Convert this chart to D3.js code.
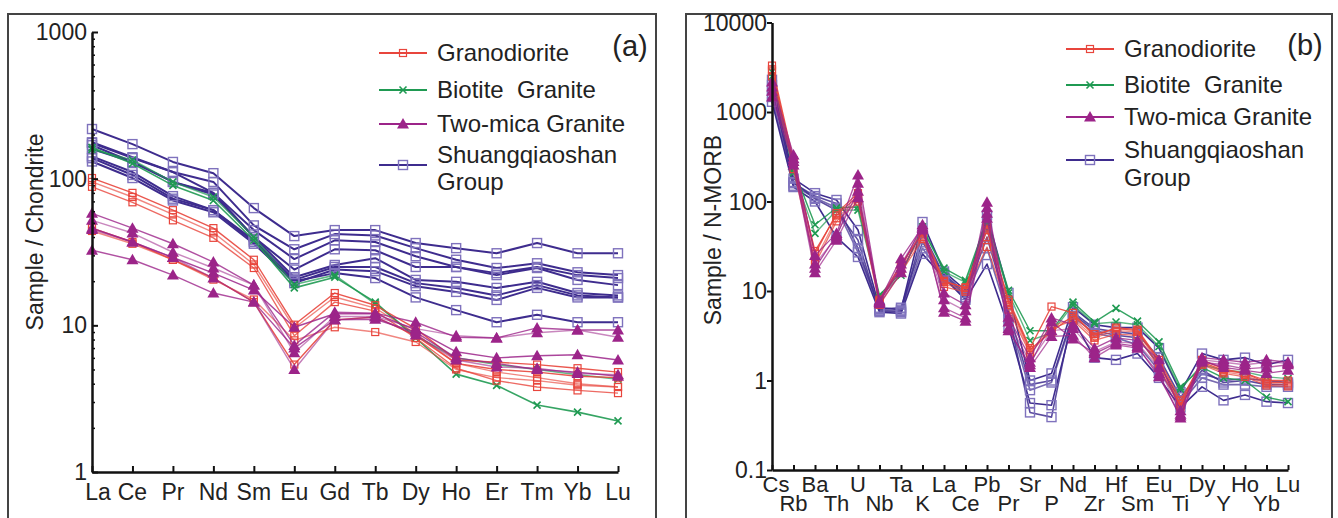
<!DOCTYPE html>
<html><head><meta charset="utf-8">
<script src="https://cdn.jsdelivr.net/npm/d3@7/dist/d3.min.js"></script>
<style>html,body{margin:0;padding:0;background:#fff;}svg{display:block;font-family:"Liberation Sans",Arial,sans-serif;}</style>
</head><body><svg id="c" width="1338" height="518"></svg>
<script>
// ---------- DATA ----------
const reeElements = ["La","Ce","Pr","Nd","Sm","Eu","Gd","Tb","Dy","Ho","Er","Tm","Yb","Lu"];
const reeTicks = [1,10,100,1000];
// Chondrite-normalised (panel a)
const reeGranodiorite = [
  [101,80,61,46,28,10.1,16.6,13.7,9.5,5.8,5.6,5.4,5.1,4.8],
  [95,75,57,43,26,9.6,15.6,13.1,8.8,5.5,4.8,4.4,4.0,3.8],
  [88,69,52,39.5,24.6,8.5,14.4,12.5,8.2,5.1,4.2,3.8,3.6,3.45],
  [46,37,28,21,14.4,5.4,10.9,11.4,8.5,5.5,5.0,4.8,4.5,4.4],
  [44,36,28,20.5,15,7.9,9.7,9.0,7.7,5.0,4.4,4.2,3.9,3.8]
];
const reeBiotite = [
  [163,127,90,71,38,18,21.3,14.4,8.2,4.65,3.9,2.86,2.56,2.23],
  [158,134,95,75,40,19,22,14,8.5,6.0,5.4,5.0,4.6,4.3]
];
const reeTwoMica = [
  [58,46,36,27,18.8,7.3,12.3,12.1,10.5,8.3,8.2,9.6,9.3,9.3],
  [52,42.6,31.5,24.6,18.8,6.5,11.5,11.5,9.5,8.5,8.2,8.9,9.3,8.3],
  [46,37,29,22.7,17.4,9.7,12,12,9.3,6.6,6.0,6.2,6.3,5.8],
  [45,37,29,21,14.4,5.0,10.9,11.4,8.6,5.8,5.2,5.1,4.7,4.6],
  [32.5,28,22,16.6,14.4,7.0,10.9,11,9,6.0,5.5,5.0,4.8,4.5]
];
const reeShuang = [
  [218,172,130,109,63,40.6,44.6,44.6,36.4,33.6,31,36.4,31,31],
  [177,140,111,95,48,33,41.9,41,33.6,28,24.6,26.5,23,22],
  [175,138,111,80,44.6,28.3,38,37,29.6,25,22.7,25,22,21],
  [169,130,95,80,40,24,33,32.5,25,25,22,24.6,20.4,18.8],
  [159,130,95,78,40,21.3,25.8,28.7,20.4,19.8,18,19.8,16.6,16],
  [142,111,76,61,38,20.4,25,25,19.4,18,16,18.8,16,15.5],
  [138,106,73,61,37,19.4,24,23.4,18.5,16.9,14.9,18,15.5,15.5],
  [131,101,71,59,36,20,22.7,21,15.5,12.7,10.5,11.8,10.5,10.5]
];

const spiderElements = ["Cs","Rb","Ba","Th","U","Nb","Ta","K","La","Ce","Pb","Pr","Sr","P","Nd","Zr","Hf","Sm","Eu","Ti","Dy","Y","Ho","Yb","Lu"];
const spiderTicks = [0.1,1,10,100,1000,10000];
const spiderTickLabels = ["0.1","1","10","100","1000","10000"];
// N-MORB-normalised (panel b)
const spGranodiorite = [
  [3300,290,26,74,124,8.0,20,44,12.6,11.0,48,8.0,2.3,6.7,5.7,3.1,3.9,3.7,1.7,0.6,1.6,1.3,1.2,1.0,1.0],
  [2900,260,22,65,107,7.5,18,40,12,10.2,40,7.0,2.1,4.0,5.0,3.0,3.6,3.5,1.5,0.55,1.55,1.25,1.15,0.92,0.9],
  [2500,230,20,60,100,7.0,16,38,11.1,9.8,31,6.2,2.0,3.8,4.7,2.8,3.3,3.2,1.4,0.5,1.5,1.2,1.1,0.88,0.86],
  [3000,270,28,70,115,7.8,19,46,13,10.8,55,7.5,2.2,3.5,5.3,3.3,3.8,3.6,1.6,0.52,1.7,1.35,1.2,0.95,0.95]
];
const spBiotite = [
  [2800,230,55,85,87,9.0,16,48,18,13.2,62,10.2,3.6,3.6,7.5,4.5,6.4,4.6,2.7,0.85,1.4,1.07,1.0,0.65,0.58],
  [2500,210,44,80,80,8.5,15,52,16.5,12.5,55,9.5,2.8,3.4,7.0,4.3,4.5,4.2,2.4,0.8,1.5,1.3,1.25,1.1,1.05]
];
const spTwoMica = [
  [2170,331,25,44,198,7.8,23,52,9.5,7.0,98,5.1,1.8,5.0,4.2,2.3,3.0,2.8,1.7,0.46,1.8,1.7,1.6,1.7,1.6],
  [1900,300,20,40,160,7.5,20,50,8.0,6.0,85,4.5,1.6,3.6,3.8,2.1,2.7,2.6,1.4,0.42,1.7,1.6,1.5,1.6,1.55],
  [1470,256,16,37,110,7.2,16,48,6.5,5.0,74,3.8,1.4,3.1,3.2,1.8,2.5,2.3,1.2,0.38,1.6,1.5,1.35,1.4,1.5],
  [1700,280,18,42,130,7.6,18,55,5.8,4.6,65,3.6,1.5,4.5,2.9,2.0,2.6,2.4,1.1,0.4,1.65,1.4,1.3,1.2,1.3]
];
const spShuang = [
  [2290,180,124,104,48,6.5,6.2,59,16.5,10.2,70,9.5,1.0,1.2,6.6,4.2,3.9,3.9,2.3,0.74,2.0,1.7,1.8,1.5,1.7],
  [1770,165,107,80,37,6.0,5.8,45,15,9.0,40,6.0,0.9,1.0,5.5,3.6,3.2,3.0,1.5,0.6,1.2,1.0,1.05,1.0,0.95],
  [1470,150,110,85,27,6.2,6.0,30,14.3,8.5,30,5.0,0.78,0.95,5.1,3.4,3.0,2.5,1.3,0.55,1.07,0.9,0.9,0.85,0.85],
  [1300,145,100,40,24,5.8,5.6,26,14,8.0,20,4.0,0.56,0.53,4.8,1.8,1.7,2.0,1.07,0.5,0.85,0.6,0.69,0.58,0.56],
  [2000,160,115,95,30,6.3,6.5,35,15.5,9.5,50,5.5,0.44,0.39,5.8,3.8,3.5,3.3,1.8,0.65,1.3,0.95,1.0,0.9,0.9]
];

const legendNames = ["Granodiorite","Biotite  Granite","Two-mica Granite","Shuangqiaoshan|Group"];

// ---------- STYLE ----------
const C = {red:"#e8453c", green:"#1f9a52", mag:"#9c2489", blue:"#3e2c8e", blueMk:"#7f72bd"};
const svg = d3.select("#c");

function marker(g, type, x, y) {
  if (type === "sq") {
    g.append("rect").attr("x", x-3.5).attr("y", y-3.5).attr("width",7).attr("height",7)
      .attr("fill","none").attr("stroke",C.red).attr("stroke-width",1.2);
  } else if (type === "bsq") {
    g.append("rect").attr("x", x-4.5).attr("y", y-4.5).attr("width",9).attr("height",9)
      .attr("fill","none").attr("stroke",C.blueMk).attr("stroke-width",1.4);
  } else if (type === "x") {
    g.append("path").attr("d",`M${x-3.5},${y-3.5}L${x+3.5},${y+3.5}M${x-3.5},${y+3.5}L${x+3.5},${y-3.5}`)
      .attr("stroke",C.green).attr("stroke-width",1.6);
  } else if (type === "tri") {
    g.append("path").attr("d",`M${x},${y-6}L${x+6},${y+4.5}L${x-6},${y+4.5}Z`).attr("fill",C.mag);
  }
}

function drawGroup(g, xs, ys, cats, rows, color, mk, lw, opac) {
  const line = d3.line().x((d,i)=>xs(cats[i])).y(d=>ys(d));
  rows.forEach((r,k)=>{
    g.append("path").attr("d", line(r)).attr("fill","none").attr("stroke",color)
      .attr("stroke-width",lw).attr("stroke-opacity", opac[k % opac.length]).attr("stroke-linejoin","round");
  });
  rows.forEach(r=>{ r.forEach((v,i)=>marker(g, mk, xs(cats[i]), ys(v))); });
}

function legend(g, x1, x2, xt, rowsY, fs) {
  const items = [
    {c:C.red, m:"sq"}, {c:C.green, m:"x"}, {c:C.mag, m:"tri"}, {c:C.blue, m:"bsq"}
  ];
  items.forEach((it,i)=>{
    const ry = rowsY[i];
    g.append("line").attr("x1",x1).attr("x2",x2).attr("y1",ry.m).attr("y2",ry.m)
      .attr("stroke",it.c).attr("stroke-width",2);
    marker(g, it.m, (x1+x2)/2, ry.m);
    const parts = legendNames[i].split("|");
    parts.forEach((p,j)=>{
      g.append("text").attr("x",xt).attr("y",ry.t[j]+fs*0.35).attr("font-size",fs)
        .attr("fill","#222").attr("xml:space","preserve").text(p);
    });
  });
}

// ---------- FRAMES ----------
svg.append("rect").attr("x",8).attr("y",14).attr("width",648).attr("height",520)
  .attr("fill","none").attr("stroke","#444").attr("stroke-width",2);
svg.append("rect").attr("x",686).attr("y",14).attr("width",646).attr("height",520)
  .attr("fill","none").attr("stroke","#444").attr("stroke-width",2);

// ---------- PANEL A ----------
const xA = d3.scalePoint().domain(reeElements).range([92,618]);
const yA = d3.scaleLog().domain([1,1000]).range([472,32]);
const gA = svg.append("g");

drawGroup(gA, xA, yA, reeElements, reeShuang, C.blue, "bsq", 2, [1]);
drawGroup(gA, xA, yA, reeElements, reeBiotite, C.green, "x", 1.6, [0.9,0.7]);
drawGroup(gA, xA, yA, reeElements, reeGranodiorite, C.red, "sq", 1.4, [0.9,0.65,0.8]);
drawGroup(gA, xA, yA, reeElements, reeTwoMica, C.mag, "tri", 1.4, [0.8,0.55,0.85,0.6]);

// axes A
const minorA = [];
reeTicks.slice(0,3).forEach(d=>{ for (let k=2;k<=9;k++) minorA.push(d*k); });
gA.append("g").attr("transform","translate(92,0)")
  .call(d3.axisLeft(yA).tickValues(minorA).tickSize(-3).tickSizeOuter(0).tickFormat(""))
  .call(s=>{s.select(".domain").remove(); s.selectAll("line").attr("stroke","#111").attr("stroke-width",1.5);});
gA.append("g").attr("transform","translate(92,0)")
  .call(d3.axisLeft(yA).tickValues(reeTicks).tickSize(-6).tickSizeOuter(0).tickFormat(""))
  .call(s=>{s.select(".domain").attr("stroke","#111").attr("stroke-width",2.5); s.selectAll("line").attr("stroke","#111").attr("stroke-width",2);});
gA.append("g").attr("transform","translate(0,472)")
  .call(d3.axisBottom(xA).tickSize(-6).tickSizeOuter(0).tickFormat(""))
  .call(s=>{s.select(".domain").attr("stroke","#111").attr("stroke-width",2.5); s.selectAll("line").attr("stroke","#111").attr("stroke-width",2);});
gA.selectAll("text.yl").data(reeTicks).join("text").attr("class","yl")
  .attr("x",87).attr("y",d=>yA(d)+8).attr("text-anchor","end").attr("font-size",23).attr("fill","#222").text(d=>d);
gA.selectAll("text.xl").data(reeElements).join("text").attr("class","xl")
  .attr("x",d=>xA(d)+ (d==="La"?6:0)).attr("y",500).attr("text-anchor","middle").attr("font-size",23).attr("fill","#222").text(d=>d);
gA.append("text").attr("transform","translate(43,232) rotate(-90)").attr("text-anchor","middle")
  .attr("font-size",23).attr("fill","#222").attr("xml:space","preserve").text("Sample / Chondrite");
gA.append("text").attr("x",630).attr("y",56).attr("text-anchor","middle").attr("font-size",29).attr("fill","#222").text("(a)");
legend(gA, 379, 427, 437, [{m:53,t:[53]},{m:90,t:[90]},{m:124,t:[124]},{m:165,t:[155,182]}], 24);

// ---------- PANEL B ----------
const xB = d3.scalePoint().domain(spiderElements).range([772,1288]);
const yB = d3.scaleLog().domain([0.1,10000]).range([470,22.5]);
const gB = svg.append("g");

drawGroup(gB, xB, yB, spiderElements, spShuang, C.blue, "bsq", 1.6, [1,0.85,0.7]);
drawGroup(gB, xB, yB, spiderElements, spBiotite, C.green, "x", 1.4, [0.9,0.7]);
drawGroup(gB, xB, yB, spiderElements, spGranodiorite, C.red, "sq", 1.3, [0.9,0.6,0.75]);
drawGroup(gB, xB, yB, spiderElements, spTwoMica, C.mag, "tri", 1.3, [0.8,0.55,0.7]);

gB.append("g").attr("transform","translate(772,0)")
  .call(d3.axisLeft(yB).tickValues(spiderTicks).tickSize(5).tickSizeOuter(0).tickFormat(""))
  .call(s=>{s.select(".domain").attr("stroke","#111").attr("stroke-width",2.5); s.selectAll("line").attr("stroke","#111").attr("stroke-width",2);});
gB.append("g").attr("transform","translate(0,470)")
  .call(d3.axisBottom(xB).tickSize(-5).tickSizeOuter(0).tickFormat(""))
  .call(s=>{s.select(".domain").attr("stroke","#111").attr("stroke-width",2.5); s.selectAll("line").attr("stroke","#111").attr("stroke-width",2);});
gB.selectAll("text.yl").data(spiderTicks).join("text").attr("class","yl")
  .attr("x",767).attr("y",d=>yB(d)+8).attr("text-anchor","end").attr("font-size",23).attr("fill","#222")
  .text((d,i)=>spiderTickLabels[i]);
gB.selectAll("text.xl").data(spiderElements).join("text").attr("class","xl")
  .attr("x",d=>xB(d)+(d==="Cs"?4:0)).attr("y",(d,i)=> i%2===0 ? 492 : 511).attr("text-anchor","middle")
  .attr("font-size",22).attr("fill","#222").text(d=>d);
gB.append("text").attr("transform","translate(721,230) rotate(-90)").attr("text-anchor","middle")
  .attr("font-size",23).attr("fill","#222").attr("xml:space","preserve").text("Sample / N-MORB");
gB.append("text").attr("x",1305).attr("y",55).attr("text-anchor","middle").attr("font-size",29).attr("fill","#222").text("(b)");
legend(gB, 1066, 1114, 1124, [{m:49,t:[49]},{m:85,t:[85]},{m:117,t:[117]},{m:160,t:[150,178]}], 24);
</script></body></html>
